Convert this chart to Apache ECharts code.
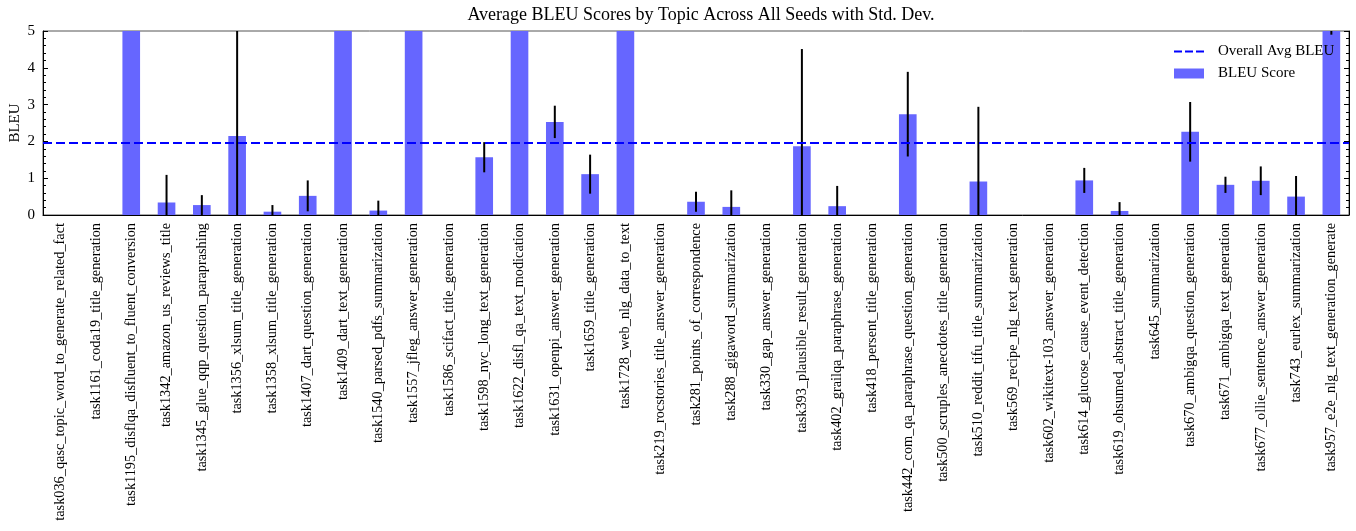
<!DOCTYPE html>
<html>
<head>
<meta charset="utf-8">
<script src="https://cdn.jsdelivr.net/npm/echarts@6/dist/echarts.min.js"></script>
<style>html,body{margin:0;padding:0;background:#fff;}#chart{width:1356px;height:531px;}</style>
</head>
<body>
<div id="chart"></div>
<script>
const categories = [
  "task036_qasc_topic_word_to_generate_related_fact",
  "task1161_coda19_title_generation",
  "task1195_disflqa_disfluent_to_fluent_conversion",
  "task1342_amazon_us_reviews_title",
  "task1345_glue_qqp_question_paraprashing",
  "task1356_xlsum_title_generation",
  "task1358_xlsum_title_generation",
  "task1407_dart_question_generation",
  "task1409_dart_text_generation",
  "task1540_parsed_pdfs_summarization",
  "task1557_jfleg_answer_generation",
  "task1586_scifact_title_generation",
  "task1598_nyc_long_text_generation",
  "task1622_disfl_qa_text_modication",
  "task1631_openpi_answer_generation",
  "task1659_title_generation",
  "task1728_web_nlg_data_to_text",
  "task219_rocstories_title_answer_generation",
  "task281_points_of_correspondence",
  "task288_gigaword_summarization",
  "task330_gap_answer_generation",
  "task393_plausible_result_generation",
  "task402_grailqa_paraphrase_generation",
  "task418_persent_title_generation",
  "task442_com_qa_paraphrase_question_generation",
  "task500_scruples_anecdotes_title_generation",
  "task510_reddit_tifu_title_summarization",
  "task569_recipe_nlg_text_generation",
  "task602_wikitext-103_answer_generation",
  "task614_glucose_cause_event_detection",
  "task619_ohsumed_abstract_title_generation",
  "task645_summarization",
  "task670_ambigqa_question_generation",
  "task671_ambigqa_text_generation",
  "task677_ollie_sentence_answer_generation",
  "task743_eurlex_summarization",
  "task957_e2e_nlg_text_generation_generate"
];
const bleuMeans = [
  0, 0, 5.6, 0.34, 0.27, 2.15, 0.09, 0.52, 11.2, 0.12,
  9.8, 0, 1.57, 10.5, 2.53, 1.11, 9.7, 0, 0.36, 0.22,
  0, 1.87, 0.24, 0, 2.74, 0, 0.91, 0, 0, 0.94,
  0.11, 0, 2.26, 0.82, 0.93, 0.50, 5.5
];
const bleuStd = [
  0, 0, 0.6, 0.75, 0.27, 3.2, 0.18, 0.42, 0.5, 0.27,
  0.5, 0, 0.41, 0.5, 0.44, 0.53, 0.5, 0, 0.27, 0.45,
  0, 2.64, 0.55, 0, 1.15, 0, 2.03, 0, 0, 0.34,
  0.24, 0, 0.81, 0.22, 0.39, 0.56, 0.6
];
const yTicks = [0, 1, 2, 3, 4, 5];

const overallAvg = bleuMeans.reduce((a, b) => a + b, 0) / bleuMeans.length;
const errData = bleuMeans.map((m, i) => [i, m - bleuStd[i], m + bleuStd[i], bleuStd[i]]);
const serif = 'Liberation Serif';

const chart = echarts.init(document.getElementById('chart'));
chart.setOption({
  animation: false,
  backgroundColor: '#fff',
  title: {
    text: 'Average BLEU Scores by Topic Across All Seeds with Std. Dev.',
    left: 696, textAlign: 'center', top: 1,
    textStyle: { fontFamily: serif, fontSize: 18, fontWeight: 'normal', color: '#000' }
  },
  graphic: [{
    type: 'text', x: 15, y: 123, rotation: Math.PI / 2,
    style: { text: 'BLEU', fontFamily: serif, fontSize: 15, fill: '#000', align: 'center', verticalAlign: 'middle' }
  }],
  legend: {
    orient: 'vertical', left: 1169, top: 39, itemWidth: 30, itemHeight: 10, itemGap: 7,
    textStyle: { fontFamily: serif, fontSize: 15, color: '#000', padding: [0, 0, 0, 9] },
    data: [
      { name: 'Overall Avg BLEU', icon: 'path://M0,4 L8,4 L8,6 L0,6 Z M11,4 L19,4 L19,6 L11,6 Z M22,4 L30,4 L30,6 L22,6 Z' },
      { name: 'BLEU Score', icon: 'rect' }
    ]
  },
  grid: { left: 43, right: 7, top: 31, bottom: 316, show: true, borderColor: '#555', borderWidth: 1, outerBoundsMode: 'none', containLabel: false },
  xAxis: {
    type: 'category', data: categories, boundaryGap: true,
    axisLine: { show: true, lineStyle: { color: '#000' } },
    axisTick: { show: false },
    axisLabel: { rotate: 90, interval: 0, fontFamily: serif, fontSize: 14.3, color: '#000', margin: 8 }
  },
  yAxis: [
    {
      type: 'value', min: yTicks[0], max: yTicks[yTicks.length - 1], interval: 1,
      axisLine: { show: true, lineStyle: { color: '#000' } },
      axisTick: { show: true, inside: true, length: 5, lineStyle: { color: '#000' } },
      minorTick: { show: true, splitNumber: 5, length: 3, lineStyle: { color: '#000' } },
      splitLine: { show: false },
      axisLabel: { fontFamily: serif, fontSize: 15, color: '#000', margin: 8 }
    },
    {
      type: 'value', position: 'right', min: yTicks[0], max: yTicks[yTicks.length - 1], interval: 1,
      axisLine: { show: true, lineStyle: { color: '#000' } },
      axisTick: { show: true, inside: true, length: 5, lineStyle: { color: '#000' } },
      minorTick: { show: true, splitNumber: 5, length: 3, lineStyle: { color: '#000' } },
      splitLine: { show: false },
      axisLabel: { show: false }
    }
  ],
  series: [
    {
      name: 'Overall Avg BLEU', type: 'line', data: [], symbol: 'none',
      itemStyle: { color: '#0000ff' },
      lineStyle: { color: '#0000ff', width: 2, type: [9, 4] },
      markLine: {
        silent: true, symbol: 'none', label: { show: false },
        lineStyle: { color: '#0000ff', width: 2, type: [9, 4] },
        data: [{ yAxis: overallAvg }]
      },
      z: 3
    },
    {
      name: 'BLEU Score', type: 'bar', data: bleuMeans, barWidth: '50%',
      itemStyle: { color: '#6666ff' },
      z: 2
    },
    {
      name: 'err', type: 'custom', data: errData, clip: true, z: 4,
      renderItem: function (params, api) {
        if (api.value(3) <= 0) return null;
        const i = api.value(0);
        const lo = api.coord([i, api.value(1)]);
        const hi = api.coord([i, api.value(2)]);
        return {
          type: 'line',
          shape: { x1: lo[0], y1: lo[1], x2: hi[0], y2: hi[1] },
          style: { stroke: '#000', lineWidth: 2 }
        };
      }
    }
  ]
});
</script>
</body>
</html>
